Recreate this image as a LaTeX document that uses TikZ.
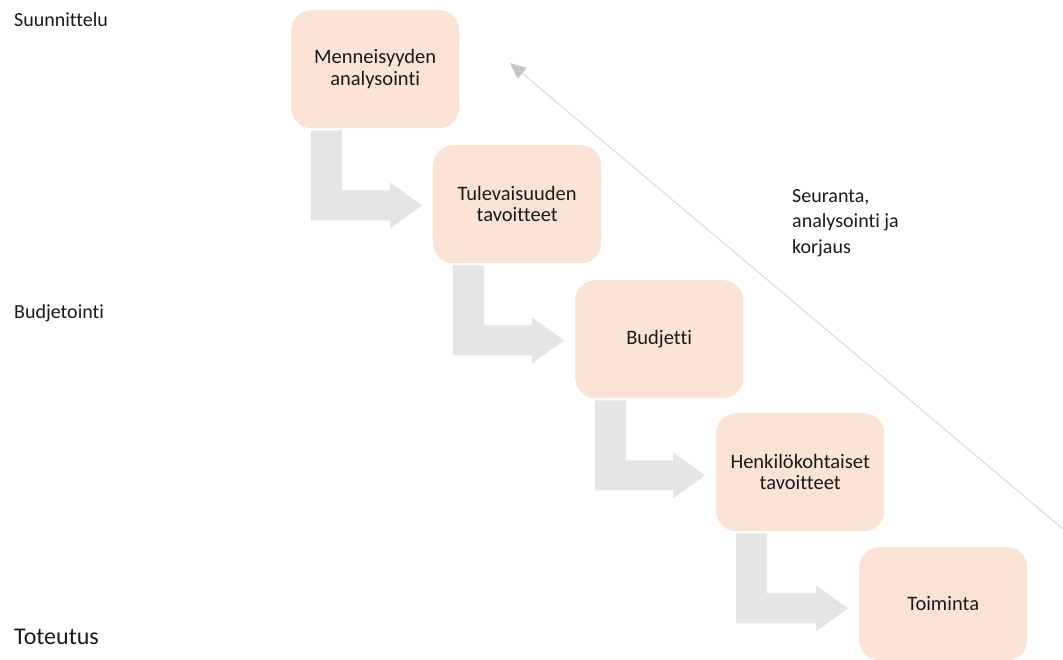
\documentclass[tikz,border=0pt]{standalone}
\usepackage{fontspec}
\setmainfont{Carlito}[Ligatures={NoCommon}]
\usetikzlibrary{calc,arrows.meta}
\definecolor{peach}{HTML}{FBE4D6}
\definecolor{arrowgray}{HTML}{E6E5E5}
\definecolor{linegray}{HTML}{DEDEDE}
\definecolor{tipgray}{HTML}{C6C6C6}
\definecolor{txt}{HTML}{1A1A1A}
\tikzset{
  stepbox/.style={fill=peach, rounded corners=20pt, minimum width=168pt, minimum height=118pt,
    anchor=north west, align=center, inner sep=0pt, text=txt,
    font=\fontsize{20.5}{21.5}\selectfont},
  sidelabel/.style={anchor=west, inner sep=0pt, text=txt, font=\fontsize{20}{25.5}\selectfont, align=left},
  bentarrow/.style={fill=arrowgray, draw=none}
}
\newcommand{\bent}[2]{%
  \fill[bentarrow]
    ($(#1.south west)+(20,2)$) -- ($(#1.south west)+(51,2)$) --
    ($(#1.south west)+(51,62)$) -- ($(#2.west|-#1.south)+(-43,62)$) --
    ($(#2.west|-#1.south)+(-43,54)$) -- ($(#2.west|-#1.south)+(-11,77)$) --
    ($(#2.west|-#1.south)+(-43,100)$) -- ($(#2.west|-#1.south)+(-43,92)$) --
    ($(#1.south west)+(20,92)$) -- cycle;}
\begin{document}
\begin{tikzpicture}[x=1pt,y=-1pt]
\useasboundingbox (0,0) rectangle (1063,660);
% boxes
\node[stepbox] (b1) at (291,10) {Menneisyyden\\analysointi};
\node[stepbox] (b2) at (433,145) {Tulevaisuuden\\tavoitteet};
\node[stepbox] (b3) at (575,280) {Budjetti};
\node[stepbox] (b4) at (716,413) {Henkilökohtaiset\\tavoitteet};
\node[stepbox, minimum height=113pt] (b5) at (859,547) {Toiminta};
% bent arrows
\bent{b1}{b2}
\bent{b2}{b3}
\bent{b3}{b4}
\bent{b4}{b5}
% diagonal feedback arrow
\coordinate (fbstart) at (1063,529);
\coordinate (fbend) at (510,63);
\draw[linegray, line width=1.2pt, -{Triangle[length=16pt,width=14pt,color=tipgray]}] (fbstart) -- (fbend);
% labels
\node[sidelabel] (plan) at (14,20) {Suunnittelu};
\node[sidelabel] (budg) at (14,313) {Budjetointi};
\node[sidelabel, font=\fontsize{24}{28}\selectfont] (tot) at (14,637) {Toteutus};
\node[sidelabel, anchor=north west] (seur) at (792,189) {Seuranta,\\analysointi ja\\korjaus};
\end{tikzpicture}
\end{document}
